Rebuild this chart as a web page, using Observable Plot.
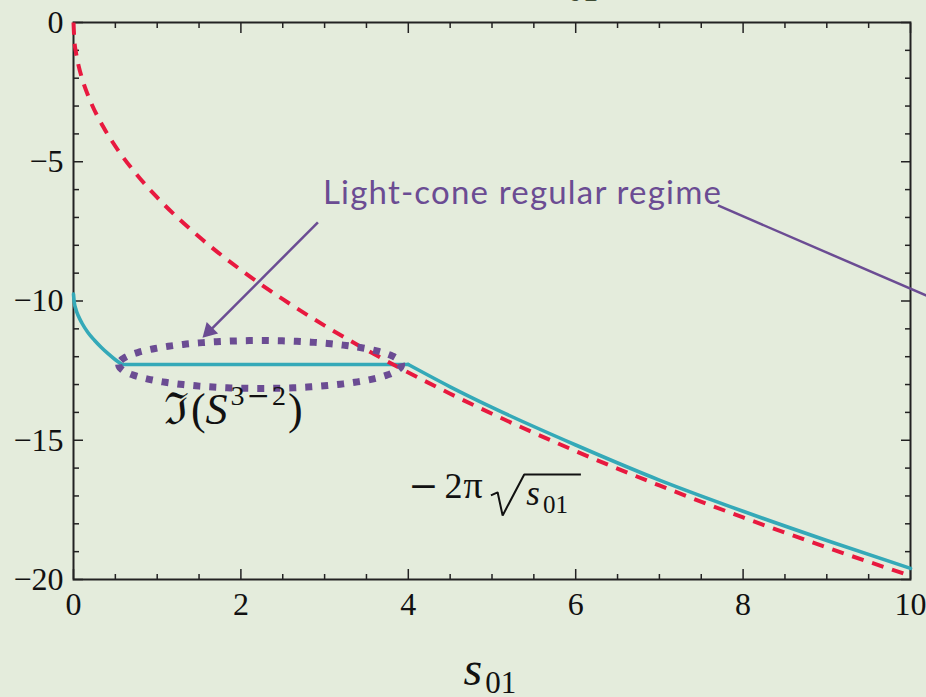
<!DOCTYPE html>
<html>
<head>
<meta charset="utf-8">
<script src="https://cdn.jsdelivr.net/npm/d3@7"></script>
<script src="https://cdn.jsdelivr.net/npm/@observablehq/plot@0.6"></script>
<style>
  html, body { margin: 0; padding: 0; background: #e4ecdc; overflow: hidden; }
</style>
</head>
<body>
<div id="chart"></div>
<script>
// Light-cone asymptote −2π√s01
const coneS = [0, 0.01, 0.03, 0.06, 0.1, 0.2, 0.35, 0.5, 0.75, 1, 1.5, 2, 2.5, 3, 3.5, 4, 4.5, 5, 6, 7, 8, 9, 10];
const coneV = [0, -0.628, -1.088, -1.539, -1.987, -2.810, -3.717, -4.443, -5.441, -6.283, -7.695, -8.886, -9.935, -10.883, -11.755, -12.566, -13.329, -14.050, -15.390, -16.624, -17.772, -18.850, -19.869];

// Im S^{3-2}: initial drop, plateau, and tail beyond s01 = 4
const dropS = [0, 0.01, 0.03, 0.06, 0.1, 0.17, 0.25, 0.33, 0.42, 0.5, 0.58];
const dropV = [-9.75, -10.07, -10.31, -10.55, -10.79, -11.12, -11.41, -11.66, -11.91, -12.11, -12.28];
const plateauS = [0.58, 4];
const plateauV = [-12.28, -12.28];
const tailS = [4, 4.5, 5, 6, 7, 8, 9, 10];
const tailV = [-12.28, -13.08, -13.82, -15.17, -16.43, -17.55, -18.6, -19.6];

// Axis ticks
const xMajor = [0, 2, 4, 6, 8, 10];
const xMinor = [0.5, 1, 1.5, 2.5, 3, 3.5, 4.5, 5, 5.5, 6.5, 7, 7.5, 8.5, 9, 9.5];
const yMajor = [0, -5, -10, -15, -20];
const yMinor = [-1, -2, -3, -4, -6, -7, -8, -9, -11, -12, -13, -14, -16, -17, -18, -19];

// Annotation text
const regimeText = "Light-cone regular regime";

const cone = coneS.map((s, i) => ({s, v: coneV[i]}));
const imS = [
  ...dropS.map((s, i) => ({s, v: dropV[i], piece: "drop"})),
  ...plateauS.map((s, i) => ({s, v: plateauV[i], piece: "plateau"})),
  ...tailS.map((s, i) => ({s, v: tailV[i], piece: "tail"}))
];

// Dotted ellipse around the plateau
const regimeCenter = [2.23, -12.28];
const regimeRadii = [1.69, 0.86];
const ellipse = d3.range(0, 241).map(i => {
  const t = Math.PI + (i / 240) * 2 * Math.PI;
  return {s: regimeCenter[0] + regimeRadii[0] * Math.cos(t), v: regimeCenter[1] + regimeRadii[1] * Math.sin(t)};
});

// Radical sign with its vinculum for the −2π√s01 label
const radical = [
  {s: 4.987, v: -16.98},
  {s: 5.067, v: -16.87},
  {s: 5.127, v: -17.70},
  {s: 5.385, v: -16.23},
  {s: 6.062, v: -16.23}
];

const ink = "#222";
const teal = "#34a9b8";
const red = "#e8193f";
const purple = "#6b4c93";
const serif = "'Liberation Serif', 'DejaVu Serif', serif";

const plot = Plot.plot({
  width: 926,
  height: 697,
  marginLeft: 73,
  marginRight: 16,
  marginTop: 22,
  marginBottom: 118,
  style: {background: "#e4ecdc", color: "#111", fontFamily: serif, fontSize: "32px"},
  x: {domain: [0, 10]},
  y: {domain: [-20, 0]},
  marks: [
    // tick labels
    Plot.axisX(xMajor, {anchor: "bottom", tickSize: 0, tickPadding: 13, fontSize: 32, label: null}),
    Plot.axisY(yMajor, {anchor: "left", tickSize: 0, tickPadding: 10, fontSize: 32, label: null}),
    // inward ticks on all four sides
    Plot.axisX(xMajor, {anchor: "bottom", tickSize: -10, fill: "none", stroke: ink, strokeWidth: 1.5}),
    Plot.axisX(xMinor, {anchor: "bottom", tickSize: -5, fill: "none", stroke: ink, strokeWidth: 1.5}),
    Plot.axisX(xMajor, {anchor: "top", tickSize: -10, fill: "none", stroke: ink, strokeWidth: 1.5}),
    Plot.axisX(xMinor, {anchor: "top", tickSize: -5, fill: "none", stroke: ink, strokeWidth: 1.5}),
    Plot.axisY(yMajor, {anchor: "left", tickSize: -10, fill: "none", stroke: ink, strokeWidth: 1.5}),
    Plot.axisY(yMinor, {anchor: "left", tickSize: -6, fill: "none", stroke: ink, strokeWidth: 1.5}),
    Plot.axisY(yMajor, {anchor: "right", tickSize: -10, fill: "none", stroke: ink, strokeWidth: 1.5}),
    Plot.axisY(yMinor, {anchor: "right", tickSize: -6, fill: "none", stroke: ink, strokeWidth: 1.5}),
    Plot.frame({stroke: ink, strokeWidth: 2}),

    // curves
    Plot.line(imS, {x: "s", y: "v", z: "piece", stroke: teal, strokeWidth: 3.6, curve: "monotone-x", strokeLinecap: "round", strokeLinejoin: "round"}),
    Plot.line(cone, {x: "s", y: "v", stroke: red, strokeWidth: 4, strokeDasharray: "12,9", strokeLinecap: "butt", curve: "monotone-x"}),
    Plot.line(ellipse, {x: "s", y: "v", stroke: purple, strokeWidth: 7, strokeDasharray: "7,9", strokeLinecap: "butt"}),

    // annotation arrows
    Plot.link([0], {x1: 2.92, y1: -7.18, x2: 1.63, y2: -11.06, stroke: purple, strokeWidth: 2.5}),
    Plot.dot([0], {x: 1.62, y: -11.08, symbol: "triangle", r: 6, rotate: 225, fill: purple, stroke: "none"}),
    Plot.link([0], {x1: 7.70, y1: -6.57, x2: 10.6, y2: -10.34, stroke: purple, strokeWidth: 2.5}),
    Plot.text([regimeText], {x: 2.98, y: -6.51, text: d => d, textAnchor: "start", lineAnchor: "bottom", fill: purple, fontSize: 33, fontFamily: "Lato, 'Noto Sans', sans-serif", ariaDescription: "regime-label"}),

    // math labels (typeset below)
    Plot.text(["ℑ(S3−2)"], {x: 1.08, y: -14.4, text: d => d, textAnchor: "start", lineAnchor: "bottom", fontSize: 44, ariaDescription: "im-label"}),
    Plot.text(["−2π"], {x: 4.0, y: -17.06, text: d => d, textAnchor: "start", lineAnchor: "bottom", fontSize: 36, ariaDescription: "cone-label"}),
    Plot.line(radical, {x: "s", y: "v", stroke: "#111", strokeWidth: 2, curve: "linear", strokeLinejoin: "miter", strokeLinecap: "butt"}),
    Plot.text(["s01"], {x: 5.41, y: -17.34, text: d => d, textAnchor: "start", lineAnchor: "bottom", fontSize: 35, ariaDescription: "cone-arg"}),
    Plot.text(["s01"], {x: 4.66, y: -23.8, text: d => d, textAnchor: "start", lineAnchor: "bottom", fontSize: 48, ariaDescription: "x-label"}),
    Plot.text(["s01"], {x: 5.64, y: 1.07, text: d => d, textAnchor: "start", lineAnchor: "bottom", fontSize: 48, fill: "#3d4a33", ariaDescription: "top-label"})
  ]
});

document.getElementById("chart").appendChild(plot);

// Rich typesetting: italic variables, subscripts and superscripts as tspans
function typeset(key, parts) {
  const t = d3.select(plot).select(`g[aria-description="${key}"] text`);
  t.text(null);
  let shift = 0;
  for (const p of parts) {
    const target = p.shift || 0;
    const sp = t.append("tspan").attr("dy", target - shift).text(p.text);
    shift = target;
    if (p.size) sp.attr("font-size", p.size);
    if (p.italic) sp.attr("font-style", "italic");
    if (p.family) sp.attr("font-family", p.family);
    if (p.dx) sp.attr("dx", p.dx);
  }
}

typeset("im-label", [
  {text: "ℑ", size: 44, family: "'DejaVu Serif', serif"},
  {text: "(", size: 44, dx: 2},
  {text: "S", size: 44, italic: true},
  {text: "3", size: 28, shift: -19, dx: 3},
  {text: "−", size: 28, shift: -19, dx: 2, family: "'DejaVu Serif', serif"},
  {text: "2", size: 28, shift: -19, dx: 2},
  {text: ")", size: 44, shift: 0, dx: 2}
]);

typeset("cone-label", [
  {text: "−", size: 36, family: "'DejaVu Serif', serif"},
  {text: "2", size: 36, dx: 6},
  {text: "π", size: 38, dx: 1}
]);

typeset("cone-arg", [
  {text: "s", size: 35, italic: true},
  {text: "01", size: 25, shift: 8, dx: 3}
]);

typeset("x-label", [
  {text: "s", size: 48, italic: true},
  {text: "01", size: 31, shift: 8, dx: 3}
]);

typeset("top-label", [
  {text: "s", size: 48, italic: true},
  {text: "01", size: 31, shift: 8, dx: 3}
]);

d3.select(plot).select('g[aria-description="regime-label"] text')
  .attr("textLength", 398)
  .attr("lengthAdjust", "spacing");
</script>
</body>
</html>
